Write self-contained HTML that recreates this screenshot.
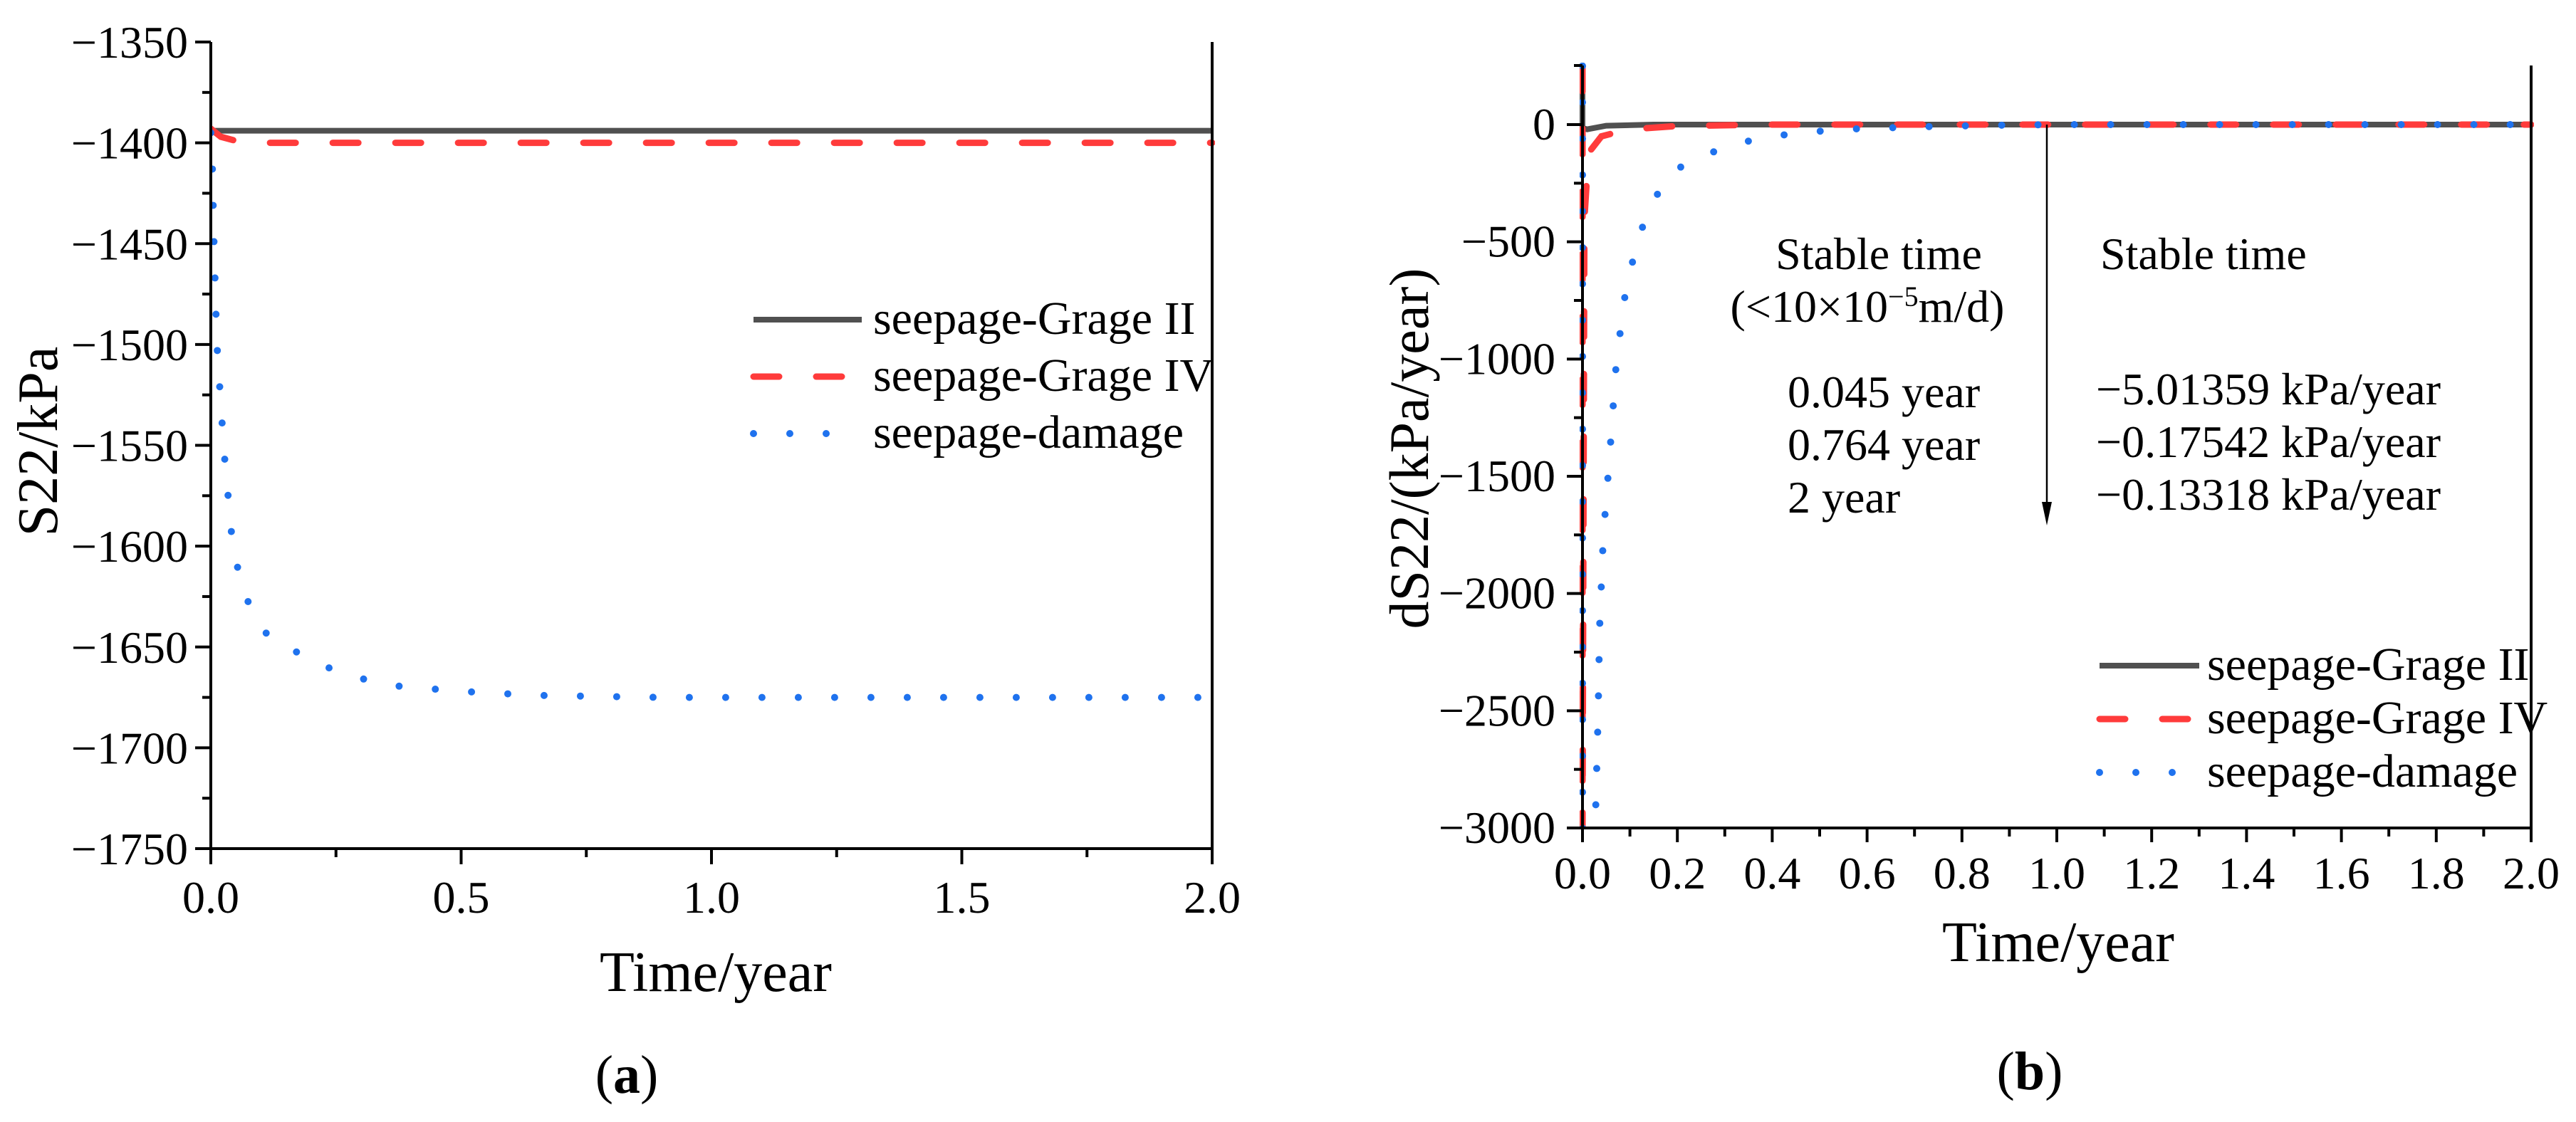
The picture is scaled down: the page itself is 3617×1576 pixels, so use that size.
<!DOCTYPE html>
<html><head><meta charset="utf-8"><style>
html,body{margin:0;padding:0;background:#fff;}
svg{display:block;}
svg text{font-family:"Liberation Serif","DejaVu Serif",serif;}
</style></head><body>
<svg id="fig" width="3617" height="1576" viewBox="0 0 3617 1576" xmlns="http://www.w3.org/2000/svg">
<defs>
<clipPath id="clipA"><rect x="296" y="55" width="1410" height="1140"/></clipPath>
<clipPath id="clipB"><rect x="2218" y="88" width="1340" height="1077"/></clipPath>
</defs>
<g id="panelA"></g>
<g id="panelB"></g>
</svg>
<script>
// ---- Panel (a) data ----
const aXTicks = [0, 0.5, 1.0, 1.5, 2.0];
const aXTickLabels = ["0.0", "0.5", "1.0", "1.5", "2.0"];
const aYTicks = [-1350, -1400, -1450, -1500, -1550, -1600, -1650, -1700, -1750];
const aYTickLabels = ["\u22121350", "\u22121400", "\u22121450", "\u22121500", "\u22121550", "\u22121600", "\u22121650", "\u22121700", "\u22121750"];
const aGreyT = [0, 2];
const aGreyV = [-1394, -1394];
const aRedT = [0, 0.01, 0.02, 0.05, 0.1, 0.2, 2];
const aRedV = [-1393, -1395, -1397, -1399, -1400, -1400, -1400];
const aBlueT = [0, 0.003, 0.006, 0.012, 0.026, 0.043, 0.064, 0.115, 0.22, 0.29, 0.356, 0.5, 0.65, 0.9, 1.3, 2];
const aBlueV = [-1395, -1411, -1446, -1499, -1552, -1598, -1623, -1645, -1659, -1665, -1669, -1672, -1674, -1675, -1675, -1675];

// ---- Panel (b) data ----
const bXTicks = [0, 0.2, 0.4, 0.6, 0.8, 1.0, 1.2, 1.4, 1.6, 1.8, 2.0];
const bXTickLabels = ["0.0", "0.2", "0.4", "0.6", "0.8", "1.0", "1.2", "1.4", "1.6", "1.8", "2.0"];
const bYTicks = [0, -500, -1000, -1500, -2000, -2500, -3000];
const bYTickLabels = ["0", "\u2212500", "\u22121000", "\u22121500", "\u22122000", "\u22122500", "\u22123000"];
const bGreyT = [0, 0, 0.01, 0.05, 0.15, 2];
const bGreyV = [250, -15, -20, -5, 0, 0];
const bRedT = [0, 0, 0.004, 0.01, 0.018, 0.04, 0.095, 0.2, 0.4, 2];
const bRedV = [250, -3000, -400, -208, -107, -50, -21, -6, 0, 0];
const bBlueT = [0, 0, 0.026, 0.028, 0.033, 0.036, 0.044, 0.057, 0.071, 0.088, 0.106, 0.132, 0.167, 0.202, 0.272, 0.36, 0.46, 0.58, 0.72, 0.86, 1.0, 2];
const bBlueV = [250, -3000, -3100, -2909, -2513, -2148, -1753, -1418, -1022, -748, -581, -399, -262, -186, -119, -64, -33, -18, -9, -3, 0, 0];

const NS = "http://www.w3.org/2000/svg";
function mk(parent, tag, attrs, text) {
  const e = document.createElementNS(NS, tag);
  for (const k in attrs) e.setAttribute(k, attrs[k]);
  if (text !== undefined) e.textContent = text;
  parent.appendChild(e);
  return e;
}
function pathD(ts, vs, sx, sy) {
  return ts.map((t, i) => (i ? "L" : "M") + sx(t).toFixed(1) + "," + sy(vs[i]).toFixed(1)).join(" ");
}
const GREY = "#505050", RED = "#ff3b3b", BLUE = "#1f72ee";
const styles = {
  grey: {stroke: GREY, "stroke-width": 8, fill: "none"},
  red: {stroke: RED, "stroke-width": 9, fill: "none", "stroke-dasharray": "36 52", "stroke-linecap": "round"},
  blue: {stroke: BLUE, "stroke-width": 10, fill: "none", "stroke-dasharray": "0 51", "stroke-linecap": "round"}
};

// ================= Panel A =================
(function(){
  const g = document.getElementById("panelA");
  const x0 = 296, x1 = 1702, yTop = 59, yBot = 1192;
  const sx = t => x0 + (t - 0) / 2 * (x1 - x0);
  const sy = v => yTop + (-1350 - v) / 400 * (yBot - yTop);
  const lines = mk(g, "g", {"clip-path": "url(#clipA)"});
  let p;
  p = mk(lines, "path", Object.assign({d: pathD(aGreyT, aGreyV, sx, sy)}, styles.grey));
  
  
  p = mk(lines, "path", Object.assign({d: pathD(aRedT, aRedV, sx, sy)}, styles.red));
  
  
  p = mk(lines, "path", Object.assign({d: pathD(aBlueT, aBlueV, sx, sy)}, styles.blue));
  
  
  const ax = mk(g, "g", {stroke: "#000", "stroke-width": 4});
  
  
  mk(ax, "line", {x1: x0, y1: yTop, x2: x0, y2: yBot + 2});
  mk(ax, "line", {x1: x0, y1: yBot, x2: x1 + 2, y2: yBot});
  mk(ax, "line", {x1: x1, y1: yTop, x2: x1, y2: yBot});
  aYTicks.forEach((v, i) => {
    mk(ax, "line", {x1: x0 - 22, y1: sy(v), x2: x0, y2: sy(v)});
    if (i < aYTicks.length - 1) { const m = v - 25; mk(ax, "line", {x1: x0 - 12, y1: sy(m), x2: x0, y2: sy(m)}); }
    const t = mk(g, "text", {x: x0 - 32, y: sy(v) + 22, "text-anchor": "end", "font-size": 64}, aYTickLabels[i]);
    
    
  });
  aXTicks.forEach((v, i) => {
    mk(ax, "line", {x1: sx(v), y1: yBot, x2: sx(v), y2: yBot + 22});
    if (i < aXTicks.length - 1) { const m = v + 0.25; mk(ax, "line", {x1: sx(m), y1: yBot, x2: sx(m), y2: yBot + 12}); }
    const t = mk(g, "text", {x: sx(v), y: 1282, "text-anchor": "middle", "font-size": 64}, aXTickLabels[i]);
    
    
  });
  let t;
  t = mk(g, "text", {x: 1005, y: 1392, "text-anchor": "middle", "font-size": 80}, "Time/year");
  
  
  t = mk(g, "text", {x: 0, y: 0, "text-anchor": "middle", "font-size": 80, transform: "translate(80,620) rotate(-90)"}, "S22/kPa");
  
  
  t = mk(g, "text", {x: 880, y: 1535, "text-anchor": "middle", "font-size": 76}, "");
  t.innerHTML = '(<tspan font-weight="bold">a</tspan>)';
  
  
  const lg = mk(g, "g", {});
  
  
  const labels = ["seepage-Grage II", "seepage-Grage IV", "seepage-damage"];
  const keys = ["grey", "red", "blue"];
  const rows = [449, 529, 609];
  rows.forEach((y, i) => {
    const e = mk(lg, "g", {});
    
    
    mk(e, "line", Object.assign({x1: 1058, y1: y, x2: 1210, y2: y}, styles[keys[i]]));
    mk(e, "text", {x: 1226, y: y + 20, "font-size": 66}, labels[i]);
  });
})();

// ================= Panel B =================
(function(){
  const g = document.getElementById("panelB");
  const x0 = 2222, x1 = 3554, y0 = 175, yBot = 1163, yTop = 92;
  const sx = t => x0 + t / 2 * (x1 - x0);
  const sy = v => y0 + (0 - v) / 3000 * (yBot - y0);
  const lines = mk(g, "g", {"clip-path": "url(#clipB)"});
  let p;
  p = mk(lines, "path", Object.assign({d: pathD(bGreyT, bGreyV, sx, sy)}, styles.grey));
  
  
  p = mk(lines, "path", Object.assign({d: pathD(bRedT, bRedV, sx, sy)}, styles.red));
  
  
  p = mk(lines, "path", Object.assign({d: pathD(bBlueT, bBlueV, sx, sy)}, styles.blue));
  
  
  const ax = mk(g, "g", {stroke: "#000", "stroke-width": 4});
  
  
  mk(ax, "line", {x1: x0, y1: yTop, x2: x0, y2: yBot + 2});
  mk(ax, "line", {x1: x0, y1: yBot, x2: x1 + 2, y2: yBot});
  mk(ax, "line", {x1: x1, y1: yTop, x2: x1, y2: yBot});
  mk(ax, "line", {x1: x0 - 12, y1: yTop, x2: x0, y2: yTop});
  bYTicks.forEach((v, i) => {
    mk(ax, "line", {x1: x0 - 22, y1: sy(v), x2: x0, y2: sy(v)});
    if (i < bYTicks.length - 1) { const m = v - 250; mk(ax, "line", {x1: x0 - 12, y1: sy(m), x2: x0, y2: sy(m)}); }
    const t = mk(g, "text", {x: x0 - 38, y: sy(v) + 21, "text-anchor": "end", "font-size": 64}, bYTickLabels[i]);
    
    
  });
  bXTicks.forEach((v, i) => {
    mk(ax, "line", {x1: sx(v), y1: yBot, x2: sx(v), y2: yBot + 20});
    if (i < bXTicks.length - 1) { const m = v + 0.1; mk(ax, "line", {x1: sx(m), y1: yBot, x2: sx(m), y2: yBot + 12}); }
    const t = mk(g, "text", {x: sx(v), y: 1248, "text-anchor": "middle", "font-size": 64}, bXTickLabels[i]);
    
    
  });
  let t;
  t = mk(g, "text", {x: 2890, y: 1350, "text-anchor": "middle", "font-size": 80}, "Time/year");
  
  
  t = mk(g, "text", {x: 0, y: 0, "text-anchor": "middle", "font-size": 78, transform: "translate(2005,630) rotate(-90)"}, "dS22/(kPa/year)");
  
  
  t = mk(g, "text", {x: 2850, y: 1530, "text-anchor": "middle", "font-size": 76}, "");
  t.innerHTML = '(<tspan font-weight="bold">b</tspan>)';
  
  
  const ar = mk(g, "g", {});
  
  
  mk(ar, "line", {x1: 2874, y1: 175, x2: 2874, y2: 715, stroke: "#000", "stroke-width": 2.5});
  mk(ar, "polygon", {points: "2867,705 2881,705 2874,738", fill: "#000"});
  const ann = mk(g, "g", {"font-size": 64});
  
  
  mk(ann, "text", {x: 2638, y: 378, "text-anchor": "middle"}, "Stable time");
  const sub = mk(ann, "text", {x: 2622, y: 452, "text-anchor": "middle"}, "");
  sub.innerHTML = '(&lt;10×10<tspan dy="-22" font-size="40">\u22125</tspan><tspan dy="22">m/d)</tspan>';
  ["0.045 year", "0.764 year", "2 year"].forEach((s, i) => mk(ann, "text", {x: 2510, y: 572 + i * 74}, s));
  mk(ann, "text", {x: 2949, y: 378}, "Stable time");
  ["\u22125.01359 kPa/year", "\u22120.17542 kPa/year", "\u22120.13318 kPa/year"].forEach((s, i) => mk(ann, "text", {x: 2943, y: 568 + i * 74}, s));
  const lg = mk(g, "g", {});
  
  
  const labels = ["seepage-Grage II", "seepage-Grage IV", "seepage-damage"];
  const keys = ["grey", "red", "blue"];
  [935, 1010, 1085].forEach((y, i) => {
    const e = mk(lg, "g", {});
    
    
    mk(e, "line", Object.assign({x1: 2948, y1: y, x2: 3088, y2: y}, styles[keys[i]]));
    mk(e, "text", {x: 3099, y: y + 20, "font-size": 66}, labels[i]);
  });
})();
</script>
</body></html>
